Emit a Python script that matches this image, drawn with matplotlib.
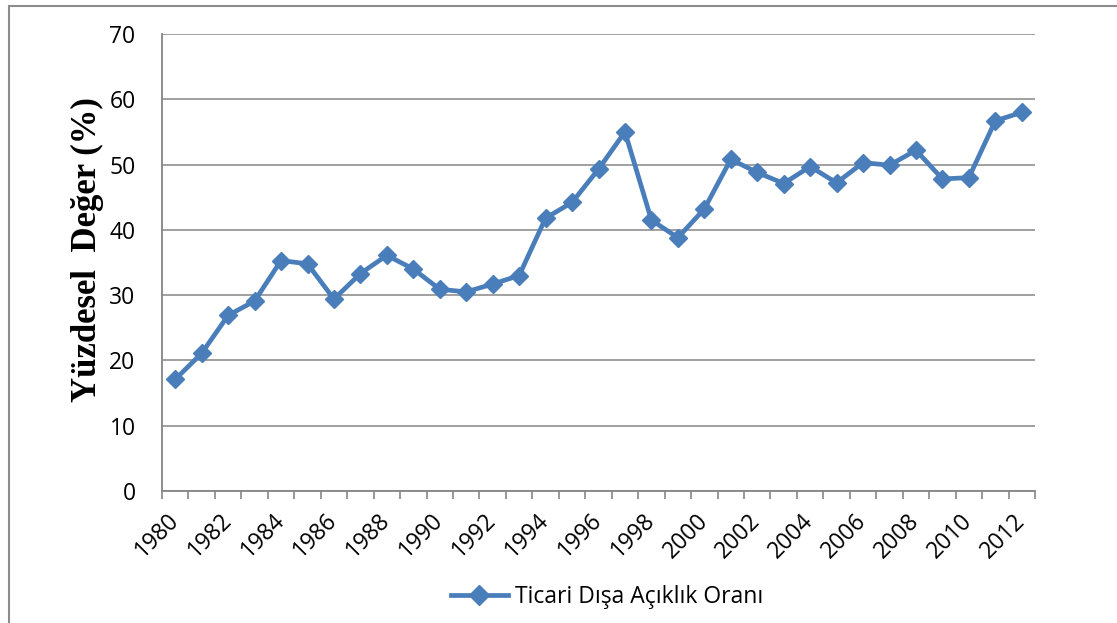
import matplotlib
matplotlib.use('Agg')
import matplotlib.pyplot as plt
from matplotlib.patches import Rectangle
from matplotlib.lines import Line2D
import numpy as np

years = list(range(1980, 2013))
oran = [17.1, 21.1, 26.9, 29.1, 35.3, 34.8, 29.4, 33.3, 36.1, 34.0,
        30.9, 30.5, 31.7, 33.0, 41.8, 44.2, 49.3, 55.0, 41.5, 38.8,
        43.2, 50.8, 48.8, 47.1, 49.7, 47.2, 50.3, 49.9, 52.2, 47.8,
        48.0, 56.7, 58.0]
yticks = [0, 10, 20, 30, 40, 50, 60, 70]

blue = '#4A7EBB'
grey = '#868686'

fig = plt.figure(figsize=(11.17, 6.23), dpi=100)
ax = fig.add_axes([162/1117, 1 - 491/623, 873/1117, 457/623])

x = np.arange(len(years))
ax.plot(x, oran, color=blue, lw=3.4, marker='D', ms=9.5, zorder=3)

ax.set_xlim(-0.5, len(years) - 0.5)
ax.set_ylim(0, 70)
ax.set_yticks(yticks)
ax.yaxis.grid(True, color=grey, lw=1.1)
ax.set_axisbelow(True)
ax.tick_params(axis='y', length=0, pad=19, labelsize=16.5)

# tick marks at category boundaries, labels every second year
ax.set_xticks(np.arange(-0.5, len(years), 1.0))
ax.set_xticklabels([])
ax.tick_params(axis='x', which='major', length=6, width=1.2, color=grey)
ax.set_xticks(x[::2], minor=True)
ax.set_xticklabels([str(y) for y in years[::2]], minor=True, rotation=45,
                   ha='right', va='center', rotation_mode='anchor', fontsize=16.5)
ax.tick_params(axis='x', which='minor', length=0, pad=19)

for s in ['top', 'right']:
    ax.spines[s].set_visible(False)
for s in ['left', 'bottom']:
    ax.spines[s].set_color(grey)
    ax.spines[s].set_linewidth(1.3)

for lab in ax.get_yticklabels() + ax.get_xticklabels(minor=True):
    lab.set_family('Open Sans')

fig.text(87/1117, 1 - 250/623, 'Yüzdesel  Değer (%)', rotation=90,
         ha='center', va='center', family='Liberation Serif',
         fontweight='bold', fontsize=25)

handle = Line2D([], [], color=blue, lw=3.4, marker='D', ms=10)
fig.legend([handle], ['Ticari Dışa Açıklık Oranı'], loc='center',
           bbox_to_anchor=(607/1117, 1 - 597/623), frameon=False,
           handlelength=2.5, handletextpad=0.3,
           prop={'family': 'Open Sans', 'size': 16.5})

fig.patches.append(Rectangle((9/1117, -0.1), 1.2, 1.1 - 6/623,
                             transform=fig.transFigure, fill=False,
                             edgecolor='#8c8c8c', lw=1.5))

fig.savefig('out.png', dpi=100)
